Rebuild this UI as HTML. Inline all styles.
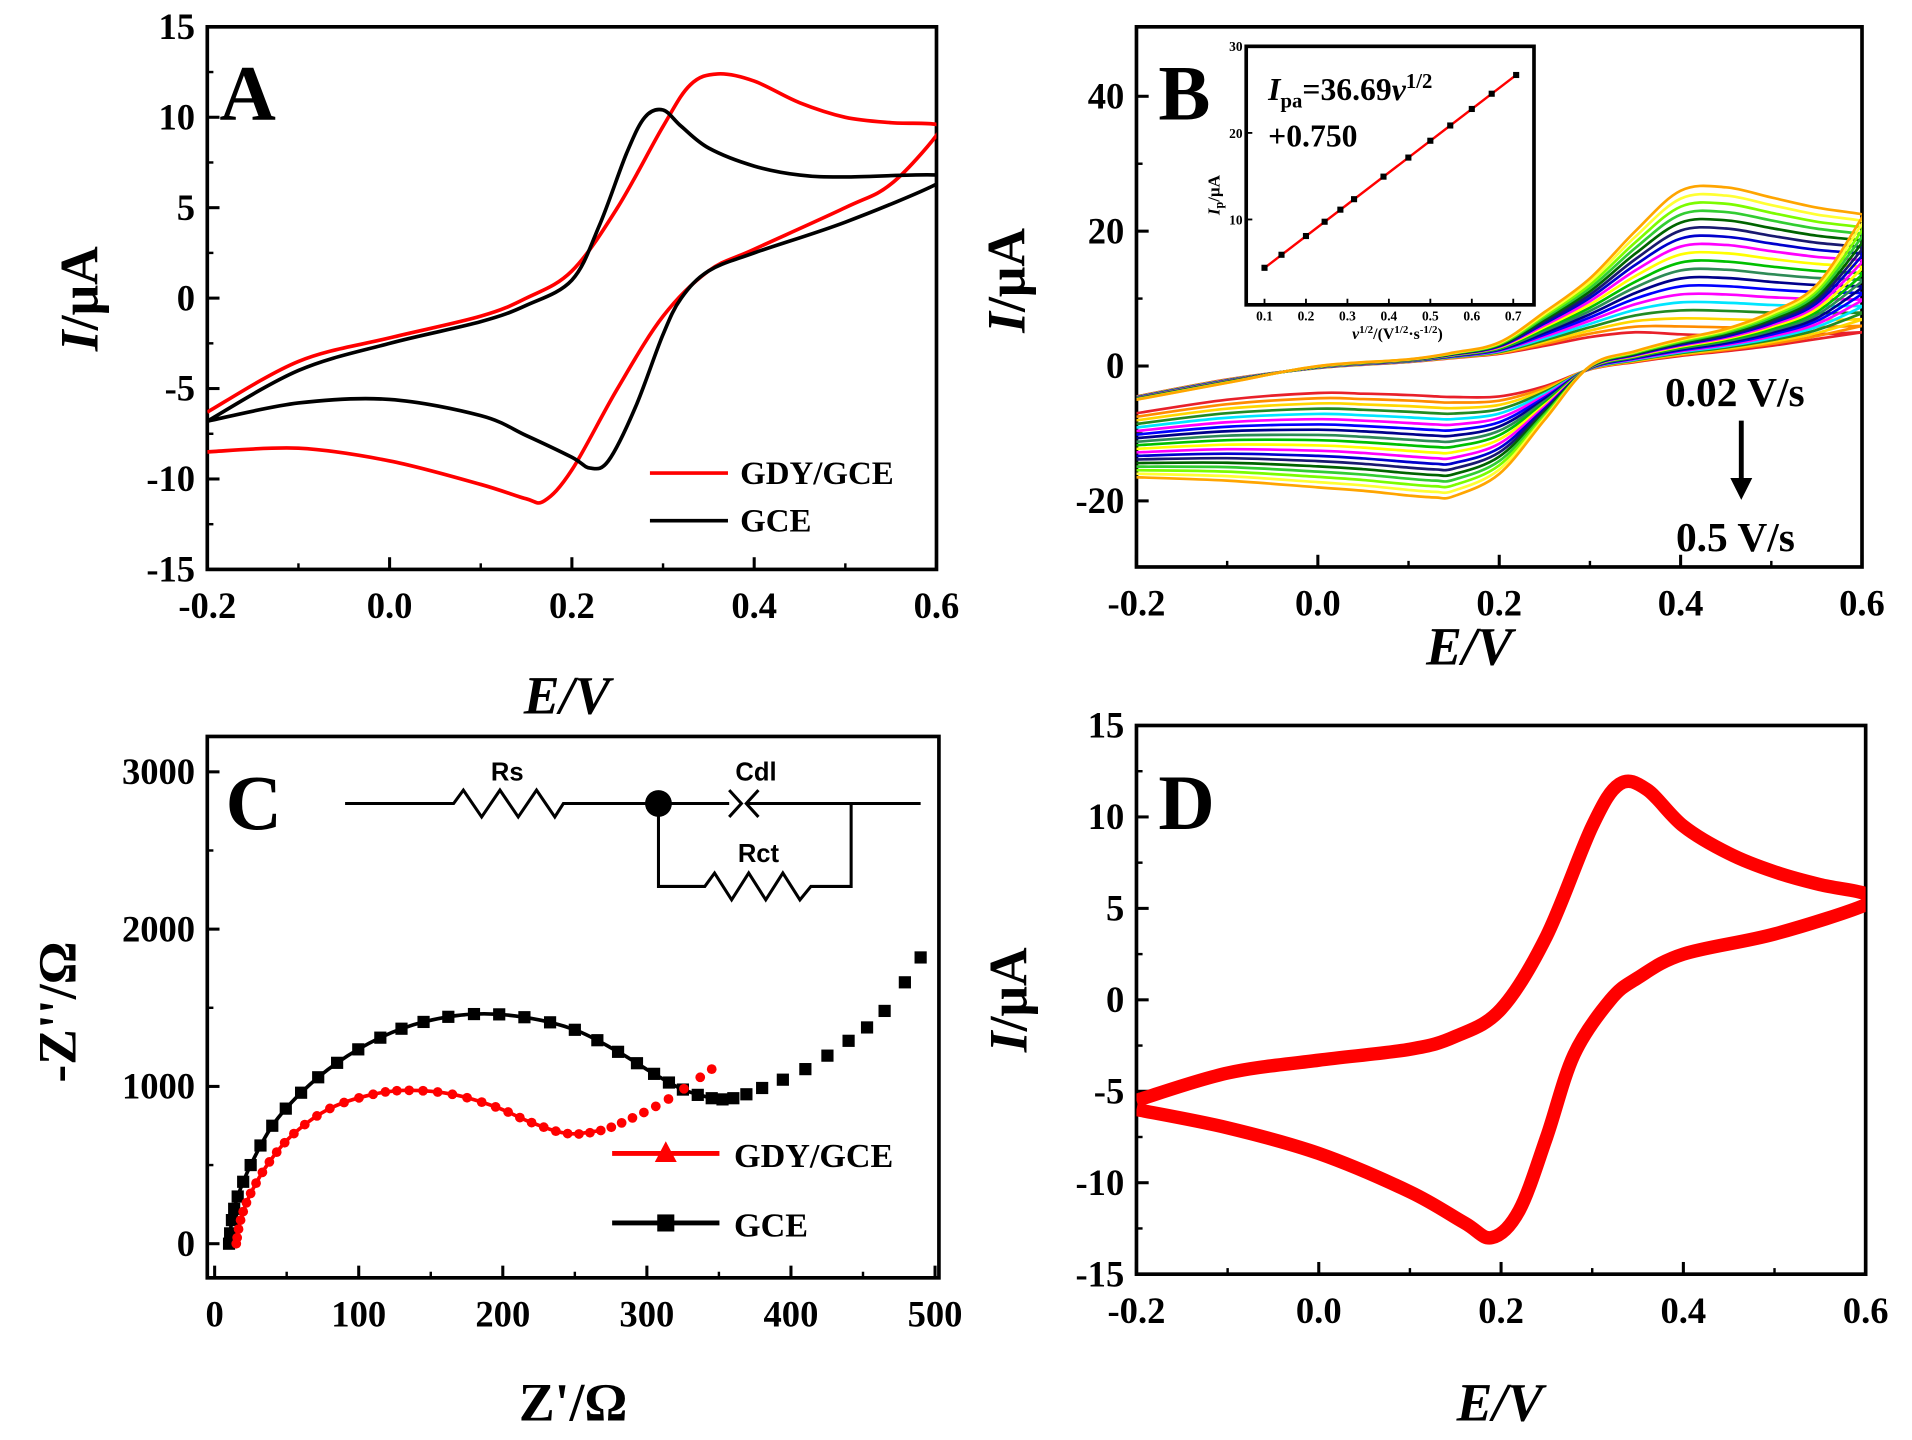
<!DOCTYPE html>
<html><head><meta charset="utf-8"><style>
html,body{margin:0;padding:0;background:#fff;}
svg{display:block;}
text{font-family:"Liberation Serif",serif;font-weight:bold;}
text.sans{font-family:"Liberation Sans",sans-serif;}
</style></head><body>
<svg id="s" width="1912" height="1440" viewBox="0 0 1568 1181" preserveAspectRatio="none" xmlns="http://www.w3.org/2000/svg"></svg>
<script>
const S=document.getElementById('s');let h='';let cid=0;
function cr(pts){
 let d='M'+pts[0][0].toFixed(1)+','+pts[0][1].toFixed(1);
 for(let i=0;i<pts.length-1;i++){const p0=pts[i-1]||pts[i],p1=pts[i],p2=pts[i+1],p3=pts[i+2]||p2;
 const c1=[p1[0]+(p2[0]-p0[0])/6,p1[1]+(p2[1]-p0[1])/6],c2=[p2[0]-(p3[0]-p1[0])/6,p2[1]-(p3[1]-p1[1])/6];
 d+=`C${c1[0].toFixed(1)},${c1[1].toFixed(1)} ${c2[0].toFixed(1)},${c2[1].toFixed(1)} ${p2[0].toFixed(1)},${p2[1].toFixed(1)}`;}
 return d;}
function ax(o){
 o.X=v=>o.x0+(v-o.xv0)/(o.xv1-o.xv0)*(o.x1-o.x0);
 o.Y=v=>o.y1-(v-o.yv0)/(o.yv1-o.yv0)*(o.y1-o.y0);
 o.cid='c'+(cid++);
 h+=`<clipPath id="${o.cid}"><rect x="${o.x0}" y="${o.y0}" width="${o.x1-o.x0}" height="${o.y1-o.y0}"/></clipPath>`;
 h+=`<rect x="${o.x0}" y="${o.y0}" width="${o.x1-o.x0}" height="${o.y1-o.y0}" fill="none" stroke="#000" stroke-width="3"/>`;
 for(const t of o.xt){const x=o.X(t);h+=`<line x1="${x}" y1="${o.y1}" x2="${x}" y2="${o.y1-10}" stroke="#000" stroke-width="2.5"/><text x="${x}" y="${o.y1+40}" font-size="30" text-anchor="middle">${o.xf(t)}</text>`;}
 for(const t of o.xm||[]){const x=o.X(t);h+=`<line x1="${x}" y1="${o.y1}" x2="${x}" y2="${o.y1-5}" stroke="#000" stroke-width="2"/>`;}
 for(const t of o.yt){const y=o.Y(t);h+=`<line x1="${o.x0}" y1="${y}" x2="${o.x0+10}" y2="${y}" stroke="#000" stroke-width="2.5"/><text x="${o.x0-10}" y="${y+10}" font-size="30" text-anchor="end">${o.yf(t)}</text>`;}
 for(const t of o.ym||[]){const y=o.Y(t);h+=`<line x1="${o.x0}" y1="${y}" x2="${o.x0+5}" y2="${y}" stroke="#000" stroke-width="2"/>`;}
 return o;}
const f1=v=>v.toFixed(1), f0=v=>String(v);
const ex=[-0.2,0,0.2,0.4,0.6], exm=[-0.1,0.1,0.3,0.5];
function pth(a,pts,col,w){h+=`<path clip-path="url(#${a.cid})" d="${cr(pts.map(p=>[a.X(p[0]),a.Y(p[1])]))}" fill="none" stroke="${col}" stroke-width="${w}" stroke-linejoin="round"/>`;}
// Panel A
const A=ax({x0:170,x1:768,y0:22,y1:467,xv0:-0.2,xv1:0.6,yv0:-15,yv1:15,xt:ex,xm:exm,xf:f1,yt:[-15,-10,-5,0,5,10,15],ym:[-12.5,-7.5,-2.5,2.5,7.5,12.5],yf:f0});
pth(A,[[-0.2,-6.3],[-0.1,-3.5],[0,-2.2],[0.1,-1],[0.15,0],[0.2,1.5],[0.25,5],[0.3,9.5],[0.33,11.8],[0.36,12.4],[0.4,12],[0.45,10.8],[0.5,10],[0.55,9.7],[0.6,9.6],[0.6,9],[0.55,6.3],[0.5,5],[0.4,2.7],[0.35,1.5],[0.3,-1],[0.25,-5],[0.2,-9.5],[0.17,-11.2],[0.15,-11.1],[0.1,-10.3],[0,-9],[-0.1,-8.3],[-0.2,-8.5]],'#f00',3);
pth(A,[[-0.2,-6.8],[-0.1,-4],[0,-2.5],[0.1,-1.3],[0.15,-0.4],[0.2,1],[0.23,4],[0.26,8],[0.28,10],[0.3,10.4],[0.32,9.5],[0.35,8.3],[0.4,7.3],[0.45,6.8],[0.5,6.7],[0.6,6.8],[0.6,6.3],[0.5,4.2],[0.4,2.5],[0.35,1.5],[0.32,0],[0.3,-2],[0.27,-6],[0.24,-9],[0.22,-9.4],[0.2,-8.8],[0.15,-7.6],[0.1,-6.5],[0,-5.6],[-0.1,-5.8],[-0.2,-6.8]],'#000',3);
h+=`<text x="180" y="98" font-size="64">A</text>
<line x1="533" y1="388" x2="597" y2="388" stroke="#f00" stroke-width="3"/><text x="607" y="397" font-size="27">GDY/GCE</text>
<line x1="533" y1="427" x2="597" y2="427" stroke="#000" stroke-width="3"/><text x="607" y="436" font-size="27">GCE</text>
<text x="465" y="585" font-size="44" font-style="italic" text-anchor="middle">E/V</text>
<text transform="translate(80,245) rotate(-90)" font-size="44" text-anchor="middle"><tspan font-style="italic">I</tspan>/μA</text>`;
// Panel B
const B=ax({x0:932,x1:1527,y0:22,y1:465,xv0:-0.2,xv1:0.6,yv0:-29.8,yv1:50.3,xt:ex,xm:exm,xf:f1,yt:[-20,0,20,40],ym:[-10,10,30],yf:f0});
const Eu=[-0.2,-0.1,0,0.1,0.15,0.2,0.25,0.3,0.35,0.4,0.45,0.5,0.55,0.6];
const inU=[-4.5,-2,-0.3,0.6,1.2,1.8,3,4.3,5,4.7,4.5,4.5,4.7,5];
const outU=[-5,-2.5,0,1,2,3.5,8,13,20,26,26.5,25,23.5,22.5];
const El=[0.6,0.55,0.5,0.45,0.4,0.35,0.3,0.25,0.2,0.15,0.13,0.1,0.05,0,-0.1,-0.2];
const inL=[5,4,3,2.2,1.5,0.6,-0.5,-3,-4.5,-4.6,-4.5,-4.3,-4.1,-4,-5,-7];
const outL=[22,12,8,5.5,4,2.2,0,-8,-16,-19.3,-19.5,-19.2,-18.5,-18,-17,-16.5];
const cols=['#e8202a','#ff8c00','#ffd700','#228b22','#00e5ff','#ff00ff','#0000ff','#00008b','#2e8b57','#00c000','#ffff00','#ff00ff','#0000cd','#191970','#006400','#32cd32','#7cfc00','#ffff33','#ffa500'];
cols.forEach((c,i)=>{const k=i/(cols.length-1);const pts=[];
 Eu.forEach((e,j)=>pts.push([e,inU[j]+k*(outU[j]-inU[j])]));
 El.forEach((e,j)=>pts.push([e,inL[j]+k*(outL[j]-inL[j])]));
 pth(B,pts,c,2.2);});
h+=`<text x="950" y="98" font-size="64">B</text>
<text x="1480" y="333" font-size="34" text-anchor="end">0.02 V/s</text>
<line x1="1428" y1="345" x2="1428" y2="400" stroke="#000" stroke-width="4"/><path d="M1419,392 L1437,392 L1428,410 Z"/>
<text x="1472" y="452" font-size="34" text-anchor="end">0.5 V/s</text>
<text x="1205" y="545" font-size="44" font-style="italic" text-anchor="middle">E/V</text>
<text transform="translate(840,230) rotate(-90)" font-size="44" text-anchor="middle"><tspan font-style="italic">I</tspan>/μA</text>`;
const In={X:v=>1037+(v-0.1)/0.6*204,Y:v=>251-v*7.1};
h+=`<rect x="1022" y="38" width="236" height="212" fill="#fff" stroke="#000" stroke-width="3"/>`;
[0.1,0.2,0.3,0.4,0.5,0.6,0.7].forEach(t=>{const x=In.X(t);h+=`<line x1="${x}" y1="250" x2="${x}" y2="245" stroke="#000" stroke-width="1.5"/><text x="${x}" y="263" font-size="11" text-anchor="middle">${t}</text>`;});
[10,20,30].forEach(t=>{const y=In.Y(t);h+=`<line x1="1022" y1="${y}" x2="1027" y2="${y}" stroke="#000" stroke-width="1.5"/><text x="1019" y="${y+4}" font-size="11" text-anchor="end">${t}</text>`;});
h+=`<line x1="${In.X(0.1)}" y1="${In.Y(4.4)}" x2="${In.X(0.71)}" y2="${In.Y(26.8)}" stroke="#f00" stroke-width="2"/>`;
[0.1,0.141,0.2,0.245,0.283,0.316,0.387,0.447,0.5,0.548,0.6,0.648,0.707].forEach(v=>{h+=`<rect x="${In.X(v)-2.5}" y="${In.Y(36.69*v+0.75)-2.5}" width="5" height="5"/>`;});
h+=`<text x="1040" y="82" font-size="26"><tspan font-style="italic">I</tspan><tspan font-size="17" dy="6">pa</tspan><tspan dy="-6">=36.69</tspan><tspan font-style="italic">v</tspan><tspan font-size="17" dy="-10">1/2</tspan></text>
<text x="1040" y="120" font-size="26">+0.750</text>
<text transform="translate(1000,160) rotate(-90)" font-size="14" text-anchor="middle"><tspan font-style="italic">I</tspan><tspan font-size="10" dy="3">p</tspan><tspan dy="-3">/μA</tspan></text>
<text x="1146" y="278" font-size="13" text-anchor="middle"><tspan font-style="italic">v</tspan><tspan font-size="9" dy="-5">1/2</tspan><tspan dy="5">/(V</tspan><tspan font-size="9" dy="-5">1/2</tspan><tspan dy="5">·s</tspan><tspan font-size="9" dy="-5">-1/2</tspan><tspan dy="5">)</tspan></text>`;
// Panel C
const C=ax({x0:170,x1:770,y0:604,y1:1048,xv0:-5.1,xv1:502.7,yv0:-217,yv1:3225,xt:[0,100,200,300,400,500],xm:[50,150,250,350,450],xf:f0,yt:[0,1000,2000,3000],ym:[500,1500,2500],yf:f0});
const gce=[[10,0],[12,150],[16,300],[25,500],[40,750],[60,960],[85,1150],[115,1310],[145,1410],[180,1460],[215,1440],[250,1360],[280,1220],[305,1080],[325,980],[345,925],[360,925],[380,990],[410,1110],[440,1290],[465,1480],[490,1820]];
pth(C,gce.slice(0,16),'#000',3);
const gdy=[[15,0],[18,150],[25,320],[38,520],[55,700],[80,860],[110,950],[135,975],[165,950],[195,870],[220,770],[245,700],[268,720],[290,800],[315,920],[345,1110]];
pth(C,gdy.slice(0,13),'#f00',3);
function sampleCR(pts,n){const out=[];for(let i=0;i<pts.length-1;i++){const p0=pts[i-1]||pts[i],p1=pts[i],p2=pts[i+1],p3=pts[i+2]||p2;for(let t=0;t<1;t+=1/n){const t2=t*t,t3=t2*t;out.push([0,1].map(k=>0.5*((2*p1[k])+(-p0[k]+p2[k])*t+(2*p0[k]-5*p1[k]+4*p2[k]-p3[k])*t2+(-p0[k]+3*p1[k]-3*p2[k]+p3[k])*t3)));}}out.push(pts[pts.length-1]);return out;}
sampleCR(gce,2).forEach(p=>{h+=`<rect x="${C.X(p[0])-5}" y="${C.Y(p[1])-5}" width="10" height="10"/>`;});
sampleCR(gdy,3).forEach(p=>{h+=`<circle cx="${C.X(p[0])}" cy="${C.Y(p[1])}" r="4" fill="#f00"/>`;});
h+=`<text x="185" y="680" font-size="64">C</text>
<g stroke="#000" stroke-width="2.5" fill="none">
<path d="M283,659 H372 L380,648 L395,670 L410,648 L425,670 L440,648 L455,670 L462,659 H598 M598,648 L608,659 L598,670 M622,648 L612,659 L622,670 M612,659 H755"/>
<path d="M540,659 V727 H578 L586,716 L600,738 L614,716 L628,738 L642,716 L656,738 L665,727 H698 V659"/>
</g><circle cx="540" cy="659" r="11" fill="#000"/>
<text class="sans" x="416" y="640" font-size="21" text-anchor="middle">Rs</text><text class="sans" x="620" y="640" font-size="21" text-anchor="middle">Cdl</text><text class="sans" x="622" y="707" font-size="21" text-anchor="middle">Rct</text>
<line x1="502" y1="946" x2="590" y2="946" stroke="#f00" stroke-width="4"/><path d="M546,936 L555,953 L537,953 Z" fill="#f00"/><text x="602" y="957" font-size="28">GDY/GCE</text>
<line x1="502" y1="1003" x2="590" y2="1003" stroke="#000" stroke-width="4"/><rect x="539" y="996" width="14" height="14"/><text x="602" y="1014" font-size="28">GCE</text>
<text x="470" y="1165" font-size="44" text-anchor="middle">Z'/Ω</text>
<text transform="translate(62,830) rotate(-90)" font-size="44" text-anchor="middle">-Z''/Ω</text>`;
// Panel D
const D=ax({x0:932,x1:1530,y0:595,y1:1045,xv0:-0.2,xv1:0.6,yv0:-15,yv1:15,xt:ex,xm:exm,xf:f1,yt:[-15,-10,-5,0,5,10,15],ym:[-12.5,-7.5,-2.5,2.5,7.5,12.5],yf:f0});
pth(D,[[-0.2,-5.5],[-0.1,-4],[0,-3.3],[0.1,-2.7],[0.15,-2],[0.2,-0.5],[0.25,3.5],[0.3,9.5],[0.33,11.8],[0.36,11.5],[0.4,9.5],[0.45,8],[0.5,7],[0.55,6.3],[0.6,5.8],[0.6,5.2],[0.5,3.6],[0.4,2.5],[0.35,1.2],[0.32,0],[0.28,-3],[0.25,-7.5],[0.22,-11.5],[0.19,-13],[0.16,-12.2],[0.1,-10.5],[0,-8.4],[-0.1,-7],[-0.2,-6]],'#f00',11);
h+=`<text x="950" y="680" font-size="64">D</text>
<text x="1230" y="1165" font-size="44" font-style="italic" text-anchor="middle">E/V</text>
<text transform="translate(842,820) rotate(-90)" font-size="44" text-anchor="middle"><tspan font-style="italic">I</tspan>/μA</text>`;
S.innerHTML=h;
</script>
</body></html>
